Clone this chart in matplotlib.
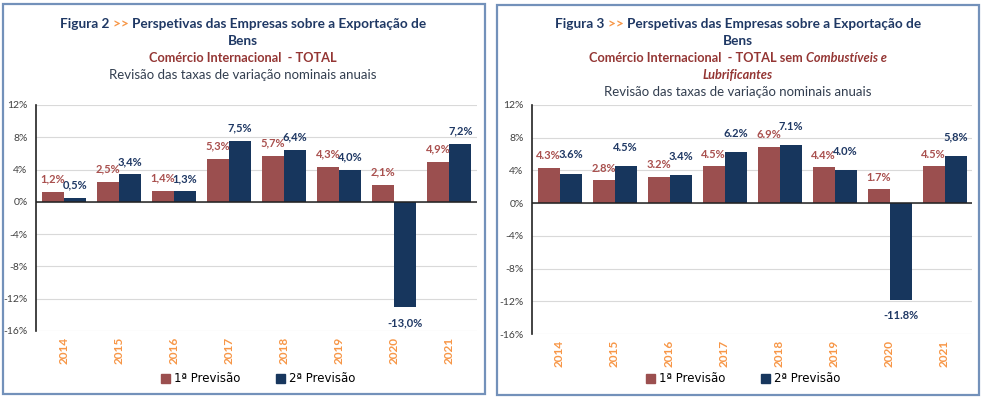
import matplotlib.pyplot as plt
import numpy as np
from matplotlib.patches import Rectangle, Patch

# data
years = ['2014', '2015', '2016', '2017', '2018', '2019', '2020', '2021']

fig2_prev1 = [1.2, 2.5, 1.4, 5.3, 5.7, 4.3, 2.1, 4.9]
fig2_prev2 = [0.5, 3.4, 1.3, 7.5, 6.4, 4.0, -13.0, 7.2]
fig2_lab1 = ['1,2%', '2,5%', '1,4%', '5,3%', '5,7%', '4,3%', '2,1%', '4,9%']
fig2_lab2 = ['0,5%', '3,4%', '1,3%', '7,5%', '6,4%', '4,0%', '-13,0%', '7,2%']

fig3_prev1 = [4.3, 2.8, 3.2, 4.5, 6.9, 4.4, 1.7, 4.5]
fig3_prev2 = [3.6, 4.5, 3.4, 6.2, 7.1, 4.0, -11.8, 5.8]
fig3_lab1 = ['4.3%', '2.8%', '3.2%', '4.5%', '6.9%', '4.4%', '1.7%', '4.5%']
fig3_lab2 = ['3.6%', '4.5%', '3.4%', '6.2%', '7.1%', '4.0%', '-11.8%', '5,8%']

yticks = [12, 8, 4, 0, -4, -8, -12, -16]
legend_names = ['1ª Previsão', '2ª Previsão']

RED = '#9B4F4F'
BLUE = '#17365D'
RED_TXT = '#A9504E'
ORANGE = '#F79646'
NAVY = '#1F3864'
SUB_RED = '#943634'
BORDER = '#7391BA'
FONT = 'Lato'

W, H = 983, 398
fig = plt.figure(figsize=(W / 100, H / 100), dpi=100)


def px_box(x0, y0, x1, y1):
    # pixel box (top-left origin) -> figure fraction rect
    return [x0 / W, 1 - y1 / H, (x1 - x0) / W, (y1 - y0) / H]


def draw_panel(rect, v1, v2, lab1, lab2, off1, off2):
    ax = fig.add_axes(rect)
    x = np.arange(len(years))
    bw = 0.4
    b1 = ax.bar(x - bw / 2, v1, bw, color=RED, zorder=3)
    b2 = ax.bar(x + bw / 2, v2, bw, color=BLUE, zorder=3)
    for bars, labs, col, off in [(b1, lab1, RED_TXT, off1), (b2, lab2, NAVY, off2)]:
        for b, lab in zip(bars, labs):
            h = b.get_height()
            ax.annotate(lab, (b.get_x() + b.get_width() / 2, h),
                        xytext=(0, off if h >= 0 else -16), textcoords='offset pixels',
                        ha='center', va='center', fontsize=8, fontweight='bold',
                        color=col, family=FONT, zorder=4)
    ax.set_xlim(-0.5, len(years) - 0.5)
    ax.set_ylim(-16, 12)
    ax.set_yticks(yticks)
    ax.set_yticklabels([f'{t}%' for t in yticks], fontsize=7.5, color='#404040', family=FONT)
    ax.set_xticks(x)
    ax.set_xticklabels(years, rotation=90, fontsize=8.5, fontweight='bold', color=ORANGE, family=FONT)
    ax.tick_params(length=0)
    ax.tick_params(axis='y', pad=6)
    ax.tick_params(axis='x', pad=4)
    ax.grid(axis='y', color='#D9D9D9', lw=0.8, zorder=0)
    for s in ['top', 'right', 'bottom']:
        ax.spines[s].set_visible(False)
    ax.spines['left'].set_color('#222222')
    ax.spines['left'].set_linewidth(1.2)
    ax.axhline(0, color='#222222', lw=1.1, zorder=3)
    return ax


def rich_line(xc, ypx, parts, size=9.5):
    # one centred line of text made of differently styled pieces
    r = fig.canvas.get_renderer()
    items = []
    for txt, col, wt, st in parts:
        t = fig.text(0, 1 - ypx / H, txt, color=col, fontweight=wt, fontstyle=st,
                     fontsize=size, family=FONT, ha='left', va='baseline')
        items.append((t, t.get_window_extent(r).width))
    total = sum(w for _, w in items)
    x = xc - total / 2
    for t, w in items:
        t.set_x(x / W)
        x += w


ax1 = draw_panel(px_box(36, 105, 477, 331), fig2_prev1, fig2_prev2, fig2_lab1, fig2_lab2, 13, 13)
ax2 = draw_panel(px_box(532, 105, 972, 334), fig3_prev1, fig3_prev2, fig3_lab1, fig3_lab2, 12, 19)

# panel frames
fig.patches.append(Rectangle((3 / W, 1 - 394 / H), 482 / W, 390 / H, transform=fig.transFigure,
                             fill=False, ec=BORDER, lw=1.6))
fig.patches.append(Rectangle((497 / W, 1 - 395 / H), 482 / W, 390 / H, transform=fig.transFigure,
                             fill=False, ec=BORDER, lw=1.6))

# titles
ts = 9.8
rich_line(243, 28, [('Figura 2 ', NAVY, 'bold', 'normal'), ('>> ', ORANGE, 'bold', 'normal'),
                    ('Perspetivas das Empresas sobre a Exportação de', NAVY, 'bold', 'normal')], ts)
rich_line(243, 45, [('Bens', NAVY, 'bold', 'normal')], ts)
rich_line(243, 62, [('Comércio Internacional  - TOTAL', SUB_RED, 'bold', 'normal')], 9.2)
rich_line(243, 79, [('Revisão das taxas de variação nominais anuais', '#333F50', 'normal', 'normal')], 9.5)

rich_line(738, 28, [('Figura 3 ', NAVY, 'bold', 'normal'), ('>> ', ORANGE, 'bold', 'normal'),
                    ('Perspetivas das Empresas sobre a Exportação de', NAVY, 'bold', 'normal')], ts)
rich_line(738, 45, [('Bens', NAVY, 'bold', 'normal')], ts)
rich_line(738, 62, [('Comércio Internacional  - TOTAL sem ', SUB_RED, 'bold', 'normal'),
                    ('Combustíveis e', SUB_RED, 'bold', 'italic')], 9.2)
rich_line(738, 79, [('Lubrificantes', SUB_RED, 'bold', 'italic')], 9.2)
rich_line(738, 96, [('Revisão das taxas de variação nominais anuais', '#333F50', 'normal', 'normal')], 9.5)

# legends
handles = [Patch(color=RED), Patch(color=BLUE)]
for xc in [258, 743]:
    fig.legend(handles, legend_names, loc='center', bbox_to_anchor=(xc / W, 1 - 379 / H),
               ncol=2, frameon=False, handlelength=0.8, handleheight=0.8,
               handletextpad=0.3, columnspacing=3.0, prop={'family': 'DejaVu Sans', 'size': 8.5})

fig.savefig('out.png', dpi=100)
